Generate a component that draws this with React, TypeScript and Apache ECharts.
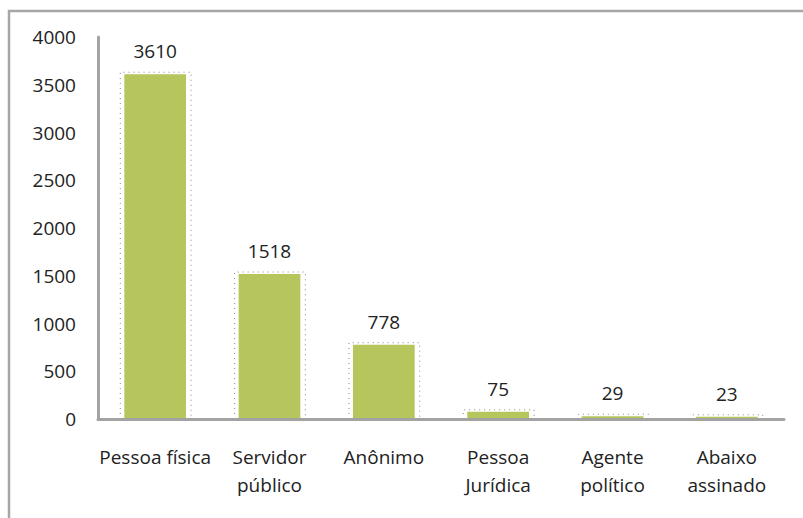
import React, { useEffect, useRef } from "react";
import * as echarts from "echarts";

const categories = [
  "Pessoa física",
  "Servidor\npúblico",
  "Anônimo",
  "Pessoa\nJurídica",
  "Agente\npolítico",
  "Abaixo\nassinado",
];
const values = [3610, 1518, 778, 75, 29, 23];
const yMin = 0;
const yMax = 4000;
const yInterval = 500;

const FONT = "'Open Sans', 'Noto Sans', sans-serif";
const TEXT = "#222222";
const BAR = "#b6c65c";
const AXIS = "#a3a3a3";

export default function App() {
  const ref = useRef<HTMLDivElement>(null);
  useEffect(() => {
    if (!ref.current) return;
    const chart = echarts.init(ref.current, null, { renderer: "svg" });
    chart.setOption({
      animation: false,
      backgroundColor: "#ffffff",
      textStyle: { fontFamily: FONT },
      graphic: [
        {
          type: "rect",
          shape: { x: 9, y: 11, width: 1000, height: 1000 },
          style: { fill: "transparent", stroke: "#a6a6a6", lineWidth: 2.5 },
          silent: true,
        },
      ],
      grid: { left: 98, right: 19, top: 37, bottom: 99, containLabel: false },
      xAxis: {
        type: "category",
        data: categories,
        z: 5,
        axisLine: { show: true, lineStyle: { color: AXIS, width: 3 } },
        axisTick: { show: false },
        axisLabel: {
          color: TEXT,
          fontSize: 19,
          fontFamily: FONT,
          lineHeight: 28,
          margin: 24,
          interval: 0,
        },
      },
      yAxis: {
        type: "value",
        min: yMin,
        max: yMax,
        interval: yInterval,
        z: 5,
        axisLine: { show: true, lineStyle: { color: AXIS, width: 3 } },
        axisTick: { show: false },
        splitLine: { show: false },
        axisLabel: {
          color: TEXT,
          fontSize: 19,
          fontFamily: FONT,
          margin: 22,
          formatter: (v: number) => String(v),
        },
      },
      series: [
        {
          type: "custom",
          z: 1,
          silent: true,
          data: values.map((v, i) => [i, v]),
          renderItem: (params: any, api: any) => {
            const top = api.coord([api.value(0), api.value(1)]);
            const base = api.coord([api.value(0), 0]);
            const bw = api.size([1, 0])[0] * 0.54;
            const l = top[0] - bw / 2 - 4;
            const r = top[0] + bw / 2 + 5;
            const t = top[1] - 2;
            return {
              type: "polyline",
              shape: {
                points: [
                  [l, base[1]],
                  [l, t],
                  [r, t],
                  [r, base[1]],
                ],
              },
              style: {
                fill: "none",
                stroke: "#555555",
                lineWidth: 1,
                lineDash: [1, 4],
                opacity: 0.7,
              },
            };
          },
        },
        {
          type: "bar",
          z: 2,
          data: values,
          barCategoryGap: "46%",
          itemStyle: { color: BAR },
          label: {
            show: true,
            position: "top",
            distance: 10,
            color: TEXT,
            fontSize: 19,
            fontFamily: FONT,
            lineHeight: 26,
          },
        },
      ],
    });
    return () => chart.dispose();
  }, []);
  return (
    <div
      ref={ref}
      style={{ position: "absolute", left: 0, top: 0, width: 803, height: 518 }}
    />
  );
}
